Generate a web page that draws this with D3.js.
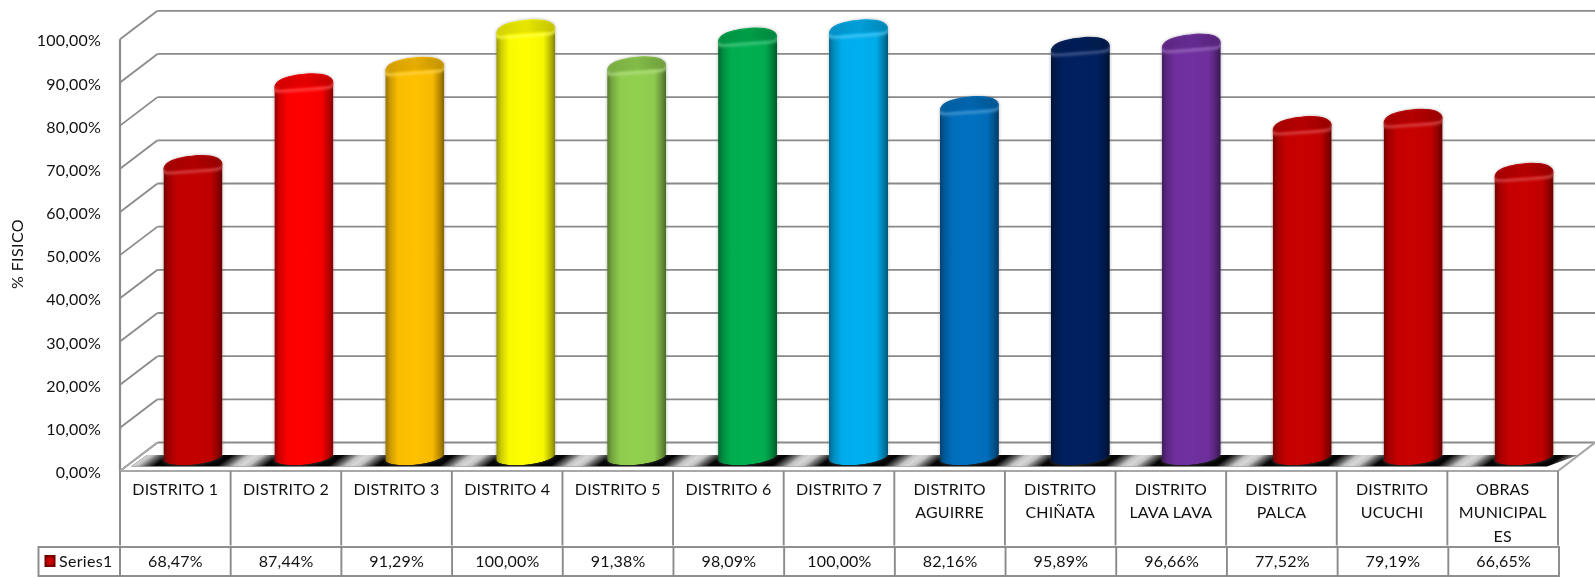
<!DOCTYPE html>
<html><head><meta charset="utf-8">
<script src="https://cdn.jsdelivr.net/npm/d3@7"></script>
<style>
html,body{margin:0;padding:0;background:#fff;overflow:hidden}
svg{display:block;filter:blur(0.4px)}
text{font-family:Lato,"Open Sans",sans-serif;fill:#111;font-size:16px}
</style></head><body>
<svg id="c" width="1595" height="577"></svg>
<script>
const categories = [["DISTRITO 1"],["DISTRITO 2"],["DISTRITO 3"],["DISTRITO 4"],["DISTRITO 5"],["DISTRITO 6"],["DISTRITO 7"],
  ["DISTRITO","AGUIRRE"],["DISTRITO","CHIÑATA"],["DISTRITO","LAVA LAVA"],["DISTRITO","PALCA"],["DISTRITO","UCUCHI"],["OBRAS","MUNICIPAL","ES"]];
const values = [68.47,87.44,91.29,100,91.38,98.09,100,82.16,95.89,96.66,77.52,79.19,66.65];
const barColors = ["#C40000","#FF0000","#FFC000","#FFFF00","#92D050","#00B050","#00B0F0","#0070C0","#002060","#7030A0","#C80000","#C80000","#C80000"];
const tickValues = [0,10,20,30,40,50,60,70,80,90,100];
const seriesName = "Series1";
const axisTitle = "% FISICO";

const W=1595,H=577, grid="#8a8a8a";
const depthX=37.5, depthY=28.5;
const svg=d3.select("#c"), defs=svg.append("defs");
const loc=d3.formatLocale({decimal:",",thousands:".",grouping:[3],currency:["","€"]});
const fmt=v=>loc.format(".2f")(v)+"%";
const idx=categories.map((_,i)=>i);

const y=d3.scaleLinear().domain([0,100]).range([471,39.3]);
const yBar=d3.scaleLinear().domain([0,100]).range([457,26.5]);
const xBar=d3.scaleBand().domain(idx).range([137.5,1579.5]);
const xHead=d3.scaleBand().domain(idx).range([120,1558]);
const xVal=d3.scaleBand().domain(idx).range([120,1559]);

// walls
const wall=svg.append("g").attr("fill","none").attr("stroke",grid).attr("stroke-width",1.8);
wall.selectAll(".h").data(tickValues).join("line")
  .attr("x1",120+depthX).attr("x2",W).attr("y1",d=>y(d)-depthY).attr("y2",d=>y(d)-depthY);
wall.selectAll(".d").data(tickValues).join("line")
  .attr("x1",120).attr("x2",120+depthX).attr("y1",d=>y(d)).attr("y2",d=>y(d)-depthY);
wall.append("line").attr("x1",120).attr("x2",120).attr("y1",y(100)).attr("y2",y(0)).attr("stroke-width",2.2);

// floor band: black strip with a light skewed stripe centred on each gap between bars
const bandTop=455, bandBot=466.5, bandMid=(bandTop+bandBot)/2;
const bandPath=`M131,${bandBot}L147,${bandTop}L1578,${bandTop}L1547,${bandBot}Z`;
defs.append("clipPath").attr("id","bandClip").append("path").attr("d",bandPath);
const fg=defs.append("linearGradient").attr("id","stripeG");
[[0,0],[.2,.45],[.35,.85],[.5,.95],[.65,.85],[.8,.45],[1,0]]
  .forEach(([o,a])=>fg.append("stop").attr("offset",o).attr("stop-color","#e2e2e2").attr("stop-opacity",a));
svg.append("path").attr("d",bandPath).attr("fill","#050505");
const skew=Math.atan(17/12.5)*180/Math.PI;
svg.append("g").attr("clip-path","url(#bandClip)").selectAll("rect").data(d3.range(14)).join("rect")
  .attr("transform",i=>`translate(${xBar.range()[0]+i*xBar.step()},${bandMid}) skewX(${-skew})`)
  .attr("x",-24).attr("width",48).attr("y",-8).attr("height",16).attr("fill","url(#stripeG)");
svg.append("path").attr("fill","none").attr("stroke","#a8a8a8").attr("stroke-width",2.2)
  .attr("d",`M120,${y(0)}L${1558},${y(0)}L${W},${y(0)-depthY}`);
svg.append("line").attr("x1",120).attr("x2",120+depthX).attr("y1",y(0)).attr("y2",y(0)-depthY).attr("stroke","#a8a8a8").attr("stroke-width",2);

// bars
const mkBlur=(id,s)=>defs.append("filter").attr("id",id).attr("x","-20%").attr("y","-60%").attr("width","140%").attr("height","220%")
  .append("feGaussianBlur").attr("stdDeviation",s);
mkBlur("soft",1.5); mkBlur("soft2",.8);
const R=29.5, RY=7.6, ROT=-6, RS=3;
const shade=(c,t)=>t>=0?d3.interpolateRgb(c,"#fff")(t):d3.interpolateRgb(c,"#000")(-t);
const bars=svg.append("g").selectAll("g").data(idx).join("g");
bars.each(function(i){
  const g=d3.select(this), c=barColors[i];
  const cx=xBar(i)+xBar.bandwidth()/2, yT=yBar(values[i]), yB=yBar(0);
  const lg=defs.append("linearGradient").attr("id","b"+i).attr("gradientUnits","userSpaceOnUse")
    .attr("x1",cx-R).attr("x2",cx+R).attr("y1",0).attr("y2",0);
  [[0,-.42],[.08,-.2],[.22,-.02],[.5,0],[.8,-.03],[.92,-.28],[1,-.5]]
    .forEach(([o,t])=>lg.append("stop").attr("offset",o).attr("stop-color",shade(c,t)));
  const topEdge=`M${cx-R},${yT+7.5}C${cx-R},${yT-1} ${cx-18},${yT-5} ${cx+2},${yT-7}C${cx+18},${yT-8.5} ${cx+R},${yT-5} ${cx+R},${yT+1.5}`;
  const body=`${topEdge}L${cx+R},${yB-RS}A${R},${RY} ${ROT} 0 1 ${cx-R},${yB+RS}Z`;
  const cap=`${topEdge}C${cx+R},${yT+5} ${cx+14},${yT+5.5} ${cx},${yT+6.5}C${cx-14},${yT+7.5} ${cx-R+5},${yT+9} ${cx-R},${yT+7.5}Z`;
  const capG=defs.append("linearGradient").attr("id","cap"+i).attr("gradientUnits","userSpaceOnUse")
    .attr("x1",cx-R).attr("x2",cx+R).attr("y1",0).attr("y2",0);
  [[0,-.18],[.5,-.1],[1,-.24]].forEach(([o,t])=>capG.append("stop").attr("offset",o).attr("stop-color",shade(c,t)));
  defs.append("clipPath").attr("id","clip"+i).append("path").attr("d",body);
  g.append("path").attr("d",body).attr("fill","none").attr("stroke","#777").attr("stroke-opacity",.4).attr("stroke-width",1.6).attr("filter","url(#soft2)");
  const inner=g.append("g").attr("clip-path",`url(#clip${i})`);
  inner.append("path").attr("d",body).attr("fill",`url(#b${i})`);
  inner.append("path").attr("d",cap).attr("transform","translate(0,2.5)")
    .attr("fill","none").attr("stroke",shade(c,.3)).attr("stroke-width",2.5).attr("filter","url(#soft)");
  inner.append("path").attr("d",cap).attr("fill",`url(#cap${i})`).attr("filter","url(#soft2)");
});

// y axis
const ax=svg.append("g").attr("transform","translate(101,1.5)")
  .call(d3.axisLeft(y).tickValues(tickValues).tickFormat(fmt).tickSize(0).tickPadding(0));
ax.select(".domain").remove();
ax.selectAll("text").style("font-family",'Lato,"Open Sans",sans-serif').style("font-size","16px").style("letter-spacing",".2px");
svg.append("text").attr("transform","translate(23,254) rotate(-90)").attr("text-anchor","middle").style("letter-spacing",".4px").text(axisTitle);

// table
const tbl=svg.append("g").attr("stroke",grid).attr("stroke-width",1.9).attr("fill","none");
tbl.selectAll(".uv").data(d3.range(14)).join("line")
  .attr("x1",i=>120+i*xHead.step()).attr("x2",i=>120+i*xHead.step()).attr("y1",471).attr("y2",545.5);
tbl.append("rect").attr("x",38.5).attr("y",547).attr("width",xVal.range()[1]-38.5).attr("height",29);
tbl.selectAll(".lv").data(d3.range(13)).join("line")
  .attr("x1",i=>120+i*xVal.step()).attr("x2",i=>120+i*xVal.step()).attr("y1",547).attr("y2",576);

const head=svg.append("g").attr("text-anchor","middle");
categories.forEach((lines,i)=>{
  lines.forEach((s,j)=>head.append("text").attr("x",xHead(i)+xHead.bandwidth()/2).attr("y",489+j*23.8)
    .attr("dy","0.35em").style("letter-spacing",".15px").text(s));
});
svg.append("g").attr("text-anchor","middle").selectAll("text").data(idx).join("text")
  .attr("x",i=>xVal(i)+xVal.bandwidth()/2).attr("y",561).attr("dy","0.35em").style("letter-spacing",".2px").text(i=>fmt(values[i]));

// legend
const sw=defs.append("radialGradient").attr("id","sw");
[[0,"#e00000"],[.6,"#b00000"],[1,"#700000"]].forEach(([o,c])=>sw.append("stop").attr("offset",o).attr("stop-color",c));
svg.append("rect").attr("x",44.5).attr("y",555).attr("width",11).attr("height",12).attr("fill","url(#sw)");
svg.append("text").attr("x",59).attr("y",561).attr("dy","0.35em").style("letter-spacing",".3px").text(seriesName);
</script></body></html>
